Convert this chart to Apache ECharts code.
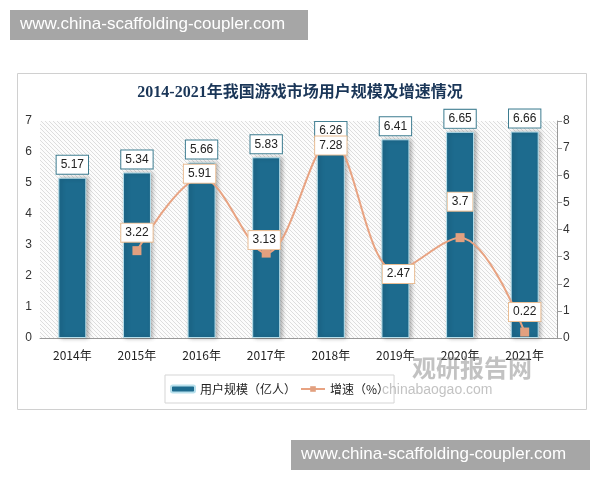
<!DOCTYPE html>
<html>
<head>
<meta charset="utf-8">
<script src="https://cdn.jsdelivr.net/npm/echarts@6/dist/echarts.min.js"></script>
<style>
html, body { margin: 0; padding: 0; background: #fff; }
#report { width: 600px; height: 480px; }
</style>
</head>
<body>
<div id="report"></div>
<script>
// 数据
var years = ['2014年', '2015年', '2016年', '2017年', '2018年', '2019年', '2020年', '2021年'];
var users = [5.17, 5.34, 5.66, 5.83, 6.26, 6.41, 6.65, 6.66];
var growth = [null, 3.22, 5.91, 3.13, 7.28, 2.47, 3.7, 0.22];
var leftTicks = [0, 1, 2, 3, 4, 5, 6, 7];
var rightTicks = [0, 1, 2, 3, 4, 5, 6, 7, 8];

// 斜线底纹
var hatch = document.createElement('canvas');
hatch.width = 4; hatch.height = 4;
var ctx = hatch.getContext('2d');
ctx.fillStyle = '#fcfcfc';
ctx.fillRect(0, 0, 4, 4);
ctx.fillStyle = '#dddddd';
for (var i = 0; i < 4; i++) ctx.fillRect(i, i, 1, 1);

// 折线标签的偏移
var lineLabelOffset = [null, [0, -18], [-2, -4], [-2, -13], [0, 5], [3, 3], [0, -36], [0, -20]];
var lineData = growth.map(function (v, i) {
  if (v == null) return null;
  return { value: v, label: { offset: lineLabelOffset[i] } };
});

var wm = 'www.china-scaffolding-coupler.com';

var myChart = echarts.init(document.getElementById('report'));

option = {
  backgroundColor: '#fff',
  animation: false,
  title: {
    text: '2014-2021年我国游戏市场用户规模及增速情况',
    left: 'center',
    top: 80,
    textStyle: { fontSize: 16, fontWeight: 'bold', color: '#1a3658', fontFamily: 'Liberation Serif, Noto Sans CJK SC' }
  },
  legend: {
    left: 165,
    top: 375,
    padding: [8, 5],
    borderColor: '#d5d5d5',
    borderWidth: 1,
    itemWidth: 24,
    itemHeight: 7,
    itemGap: 4,
    textStyle: { fontSize: 12, color: '#222', fontFamily: 'Noto Sans CJK SC' },
    data: ['用户规模（亿人）', '增速（%）']
  },
  grid: {
    left: 40, right: 43, top: 121, bottom: 142,
    show: true, borderWidth: 0,
    backgroundColor: { image: hatch, repeat: 'repeat' }
  },
  xAxis: {
    type: 'category',
    data: years,
    axisLine: { lineStyle: { color: '#999' } },
    axisTick: { show: false },
    axisLabel: { color: '#222', fontSize: 12, margin: 11, fontFamily: 'Noto Sans CJK SC' }
  },
  yAxis: [
    {
      type: 'value', min: 0, max: leftTicks[leftTicks.length - 1], interval: 1,
      splitLine: { show: false },
      axisLine: { show: false },
      axisTick: { show: false },
      axisLabel: { color: '#333', fontSize: 12, margin: 8 }
    },
    {
      type: 'value', min: 0, max: rightTicks[rightTicks.length - 1], interval: 1,
      position: 'right',
      splitLine: { show: false },
      axisLine: { show: true, lineStyle: { color: '#999' } },
      axisTick: { show: true, length: 5, lineStyle: { color: '#999' } },
      axisLabel: { color: '#333', fontSize: 12, margin: 6 }
    }
  ],
  series: [
    {
      name: '用户规模（亿人）',
      type: 'bar',
      data: users,
      barWidth: 28,
      itemStyle: {
        color: '#1d6b8e',
        borderColor: '#b8e0ec',
        borderWidth: 1,
        shadowColor: 'rgba(0,0,0,0.3)',
        shadowBlur: 4,
        shadowOffsetX: 2
      },
      label: {
        show: true,
        position: 'top',
        distance: 4,
        color: '#222',
        fontSize: 12,
        backgroundColor: '#fff',
        borderColor: '#3d7c90',
        borderWidth: 1,
        padding: [3, 4]
      }
    },
    {
      name: '增速（%）',
      type: 'line',
      yAxisIndex: 1,
      data: lineData,
      smooth: 0.35,
      symbol: 'rect',
      symbolSize: 9,
      lineStyle: { color: '#e8a382', width: 2 },
      itemStyle: { color: '#e2a07f' },
      label: {
        show: true,
        position: 'inside',
        color: '#222',
        fontSize: 12,
        backgroundColor: '#fff',
        borderColor: '#e9bd94',
        borderWidth: 1,
        padding: [3, 4]
      }
    }
  ],
  graphic: [
    { type: 'rect', left: 15, top: 71, shape: { width: 569, height: 336 }, style: { fill: 'none', stroke: '#d0d0d0', lineWidth: 1 }, z: -1 },
    { type: 'text', left: 412, top: 356, style: { text: '观研报告网', fontSize: 24, fontWeight: 'bold', fill: 'rgba(120,120,120,0.45)', fontFamily: 'Noto Sans CJK SC' }, z: 100 },
    { type: 'text', left: 382, top: 383, style: { text: 'chinabaogao.com', fontSize: 14, fill: 'rgba(120,120,120,0.45)' }, z: 100 },
    { type: 'rect', left: 10, top: 10, shape: { width: 298, height: 30 }, style: { fill: '#a6a6a6' }, z: 100 },
    { type: 'text', left: 20, top: 16, style: { text: wm, fontSize: 17, fill: '#fff', fontFamily: 'Liberation Sans' }, z: 101 },
    { type: 'rect', left: 291, top: 440, shape: { width: 299, height: 30 }, style: { fill: '#a6a6a6' }, z: 100 },
    { type: 'text', left: 301, top: 446, style: { text: wm, fontSize: 17, fill: '#fff', fontFamily: 'Liberation Sans' }, z: 101 }
  ]
};

myChart.setOption(option);
</script>
</body>
</html>
